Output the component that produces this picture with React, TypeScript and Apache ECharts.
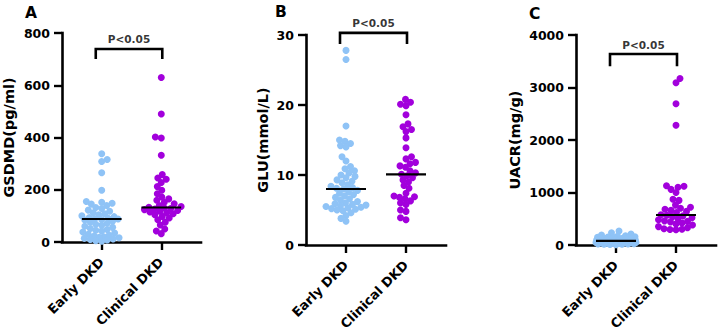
import React, { useEffect, useRef } from "react";
import * as echarts from "echarts";

// ---- data ----
const categories = ["Early DKD", "Clinical DKD"];
const categoryX = [40, 100];

const gsdmdEarly = [338, 316, 308, 265, 198, 155, 152, 148, 145, 140, 132, 128, 122, 118, 112, 108, 104, 100, 97, 94, 91, 89, 88, 86, 84, 80, 76, 72, 68, 64, 60, 56, 52, 48, 45, 42, 38, 34, 30, 26, 23, 20, 18, 16, 14, 12, 10, 8, 5, 3];
const gsdmdClinical = [630, 490, 402, 398, 332, 258, 245, 240, 228, 212, 198, 185, 172, 165, 160, 152, 146, 140, 136, 133, 130, 128, 126, 124, 121, 118, 115, 112, 108, 104, 98, 92, 85, 76, 65, 50, 42, 32];
const gsdmdMedian = [88, 132];

const gluEarly = [27.8, 26.5, 17.0, 15.0, 14.8, 14.5, 14.2, 14.0, 12.6, 12.0, 11.2, 10.9, 10.6, 10.3, 10.0, 9.8, 9.6, 9.3, 9.1, 8.9, 8.6, 8.4, 8.2, 8.1, 8.0, 7.8, 7.6, 7.4, 7.2, 7.0, 6.8, 6.6, 6.4, 6.2, 6.0, 5.9, 5.8, 5.7, 5.6, 5.5, 5.4, 5.3, 5.2, 5.1, 5.0, 4.9, 4.6, 4.2, 3.8, 3.4];
const gluClinical = [20.8, 20.4, 20.1, 19.9, 18.6, 17.3, 16.9, 16.5, 16.2, 15.3, 13.9, 12.6, 12.3, 11.8, 11.6, 11.3, 11.1, 10.6, 10.3, 10.1, 9.9, 9.6, 9.3, 9.0, 8.5, 8.1, 7.4, 7.0, 6.9, 6.8, 6.6, 6.3, 6.0, 5.8, 5.0, 4.8, 3.9, 3.6];
const gluMedian = [8.0, 10.1];

const uacrEarly = [268, 235, 210, 190, 175, 165, 158, 150, 145, 140, 135, 130, 125, 120, 115, 110, 106, 102, 98, 95, 92, 89, 86, 83, 80, 78, 75, 72, 70, 67, 64, 61, 58, 55, 52, 49, 46, 43, 40, 37, 34, 31, 28, 25, 22, 19, 16, 13, 10, 7];
const uacrClinical = [3170, 3090, 2690, 2280, 1130, 1120, 1100, 1060, 1000, 870, 850, 760, 720, 700, 680, 660, 640, 620, 575, 568, 555, 540, 520, 500, 480, 460, 450, 440, 420, 400, 380, 350, 330, 310, 300, 295, 290];
const uacrMedian = [80, 571];

const panelLetters = ["A", "B", "C"];
const yTitles = ["GSDMD(pg/ml)", "GLU(mmol/L)", "UACR(mg/g)"];
const yMax = [800, 30, 4000];
const yInterval = [200, 10, 1000];
const pText = "P<0.05";
const bracketLevels = [
  [739, 705],
  [30.3, 28.9],
  [3638, 3429],
];

// ---- styling ----
const BLUE = "#8FC3F6";
const PURPLE = "#A200DC";
const FONT = "DejaVu Sans";

const grids = [
  { left: 61, top: 33, width: 140, height: 209 },
  { left: 306, top: 35, width: 140, height: 210 },
  { left: 576, top: 35, width: 140, height: 210 },
];
const nameGaps = [46, 36, 54];
const letterPos = [
  [25, 5],
  [275, 4],
  [529, 6],
];

function swarm(values: number[], center: number, pxPerUnit: number): number[][] {
  const minDist = 5.6;
  const maxHalf = 20;
  const step = 0.5;
  const order = values.map((_, i) => i).sort((a, b) => values[a] - values[b]);
  const placed: { x: number; y: number }[] = [];
  const out: number[][] = new Array(values.length);
  const cands: number[] = [0];
  for (let k = step; k <= maxHalf; k += step) cands.push(k, -k);
  order.forEach((idx, n) => {
    const y = values[idx] * pxPerUnit;
    let bestX = 0;
    let bestD = -1;
    for (const c0 of cands) {
      const c = n % 2 ? -c0 : c0;
      let d = Infinity;
      for (const p of placed) {
        const dd = Math.hypot(p.x - c, p.y - y);
        if (dd < d) d = dd;
      }
      if (d >= minDist) {
        bestX = c;
        bestD = d;
        break;
      }
      if (d > bestD) {
        bestD = d;
        bestX = c;
      }
    }
    placed.push({ x: bestX, y });
    out[idx] = [center + bestX, values[idx]];
  });
  return out;
}

function buildOption() {
  const groups = [
    [gsdmdEarly, gsdmdClinical, gsdmdMedian],
    [gluEarly, gluClinical, gluMedian],
    [uacrEarly, uacrClinical, uacrMedian],
  ];
  const xAxis: any[] = [];
  const yAxis: any[] = [];
  const series: any[] = [];
  const graphic: any[] = [];

  groups.forEach((g, i) => {
    const [early, clinical, median] = g as number[][];
    const pxPerUnit = grids[i].height / yMax[i];
    xAxis.push({
      type: "value",
      gridIndex: i,
      min: 0,
      max: 140,
      splitLine: { show: false },
      axisLine: { show: true, lineStyle: { color: "#000", width: 2.6, cap: "square" } },
      axisTick: { show: true, customValues: categoryX, length: 8, lineStyle: { color: "#000", width: 2.4 } },
      axisLabel: {
        show: true,
        customValues: categoryX,
        formatter: (v: number) => {
          const k = categoryX.indexOf(v);
          return k >= 0 ? categories[k] : "";
        },
        rotate: 45,
        margin: 18,
        color: "#000",
        fontFamily: FONT,
        fontWeight: "bold",
        fontSize: 13,
      },
    });
    yAxis.push({
      type: "value",
      gridIndex: i,
      min: 0,
      max: yMax[i],
      interval: yInterval[i],
      name: yTitles[i],
      nameLocation: "middle",
      nameGap: nameGaps[i],
      nameTextStyle: { color: "#000", fontFamily: FONT, fontWeight: "bold", fontSize: 14.5 },
      splitLine: { show: false },
      axisLine: { show: true, lineStyle: { color: "#000", width: 2.6, cap: "square" } },
      axisTick: { show: true, length: 8, lineStyle: { color: "#000", width: 2.4 } },
      axisLabel: {
        color: "#000",
        fontFamily: FONT,
        fontWeight: "bold",
        fontSize: 12.5,
        margin: 12,
        formatter: (v: number) => String(v),
      },
    });

    series.push({
      type: "scatter",
      xAxisIndex: i,
      yAxisIndex: i,
      data: swarm(early, categoryX[0], pxPerUnit),
      symbolSize: 7,
      itemStyle: { color: BLUE, opacity: 1 },
      z: 2,
    });
    series.push({
      type: "scatter",
      xAxisIndex: i,
      yAxisIndex: i,
      data: swarm(clinical, categoryX[1], pxPerUnit),
      symbolSize: 7,
      itemStyle: { color: PURPLE, opacity: 1 },
      z: 2,
    });
    median.forEach((m, k) => {
      series.push({
        type: "line",
        xAxisIndex: i,
        yAxisIndex: i,
        data: [
          [categoryX[k] - 20, m],
          [categoryX[k] + 20, m],
        ],
        symbol: "none",
        lineStyle: { color: "#000", width: 2.2 },
        z: 4,
      });
    });
    const [top, leg] = bracketLevels[i];
    const bl = categoryX[0] - 6;
    const br = categoryX[1] + 1;
    series.push({
      type: "line",
      xAxisIndex: i,
      yAxisIndex: i,
      clip: false,
      data: [
        [bl, leg],
        [bl, top],
        [br, top],
        [br, leg],
      ],
      symbol: "none",
      lineStyle: { color: "#000", width: 2.6, cap: "square", join: "miter" },
      z: 4,
    });
    series.push({
      type: "scatter",
      xAxisIndex: i,
      yAxisIndex: i,
      clip: false,
      symbolSize: 0,
      data: [[(bl + br) / 2, top]],
      label: {
        show: true,
        position: "top",
        distance: 4,
        formatter: pText,
        color: "#000",
        fontFamily: FONT,
        fontWeight: "bold",
        fontSize: 10.5,
      },
      z: 4,
    });

    graphic.push({
      type: "text",
      left: letterPos[i][0],
      top: letterPos[i][1],
      style: {
        text: panelLetters[i],
        fill: "#000",
        font: `bold 15.5px "${FONT}"`,
      },
    });
  });

  return {
    animation: false,
    backgroundColor: "#fff",
    grid: grids.map((g) => ({ ...g, containLabel: false })),
    xAxis,
    yAxis,
    series,
    graphic,
  };
}

export default function App() {
  const ref = useRef<HTMLDivElement>(null);
  useEffect(() => {
    if (!ref.current) return;
    const chart = echarts.init(ref.current, undefined, { renderer: "svg" });
    chart.setOption(buildOption() as any);
    return () => chart.dispose();
  }, []);
  return (
    <div
      ref={ref}
      style={{ position: "absolute", left: 0, top: 0, width: 719, height: 335, background: "#fff" }}
    />
  );
}
